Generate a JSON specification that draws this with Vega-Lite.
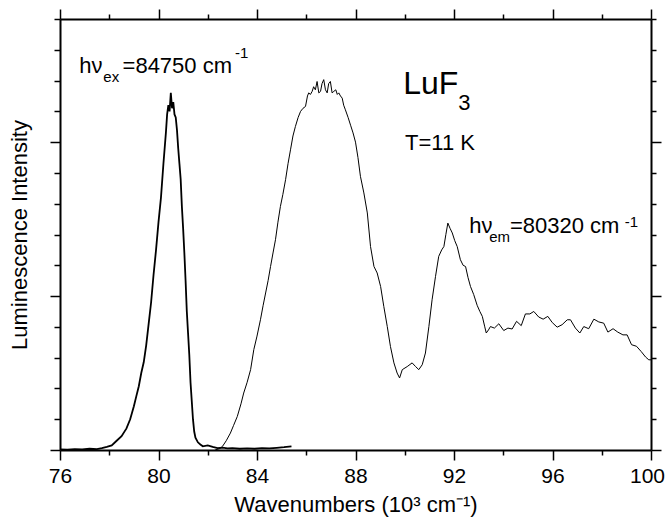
{
  "$schema": "https://vega.github.io/schema/vega-lite/v6.json",
  "width": 591,
  "height": 431,
  "autosize": {"type": "none"},
  "padding": {"left": 60, "top": 19, "right": 16, "bottom": 68},
  "background": "white",
  "config": {
    "view": {"stroke": null},
    "font": "Liberation Sans",
    "axis": {"domainColor": "black", "tickColor": "black", "labelColor": "black", "titleColor": "black", "grid": false, "labelFont": "Liberation Sans", "titleFont": "Liberation Sans", "titleFontWeight": "normal", "domainWidth": 2, "tickWidth": 1.5}
  },
  "datasets": {
    "ex": [
      {"x": 76.0, "y": 0.02}, {"x": 76.3, "y": 0.01}, {"x": 76.6, "y": 0.03}, {"x": 76.9, "y": 0.02}, {"x": 77.2, "y": 0.04}, {"x": 77.5, "y": 0.03}, {"x": 77.7, "y": 0.06}, {"x": 77.9, "y": 0.1}, {"x": 78.1, "y": 0.15}, {"x": 78.3, "y": 0.3}, {"x": 78.5, "y": 0.45}, {"x": 78.7, "y": 0.7}, {"x": 78.85, "y": 1.0}, {"x": 79.0, "y": 1.42}, {"x": 79.1, "y": 1.75}, {"x": 79.2, "y": 2.07}, {"x": 79.3, "y": 2.5}, {"x": 79.4, "y": 2.85}, {"x": 79.5, "y": 3.4}, {"x": 79.6, "y": 4.1}, {"x": 79.7, "y": 4.8}, {"x": 79.8, "y": 5.7}, {"x": 79.9, "y": 6.5}, {"x": 80.0, "y": 7.4}, {"x": 80.1, "y": 8.2}, {"x": 80.2, "y": 9.3}, {"x": 80.3, "y": 10.3}, {"x": 80.35, "y": 10.9}, {"x": 80.4, "y": 11.2}, {"x": 80.45, "y": 11.0}, {"x": 80.5, "y": 11.6}, {"x": 80.55, "y": 11.1}, {"x": 80.6, "y": 11.3}, {"x": 80.65, "y": 10.9}, {"x": 80.7, "y": 10.8}, {"x": 80.75, "y": 10.4}, {"x": 80.8, "y": 9.8}, {"x": 80.85, "y": 9.3}, {"x": 80.9, "y": 8.8}, {"x": 80.95, "y": 7.9}, {"x": 81.0, "y": 7.2}, {"x": 81.05, "y": 6.4}, {"x": 81.1, "y": 5.5}, {"x": 81.15, "y": 4.5}, {"x": 81.2, "y": 3.8}, {"x": 81.25, "y": 3.1}, {"x": 81.3, "y": 2.2}, {"x": 81.35, "y": 1.6}, {"x": 81.4, "y": 1.0}, {"x": 81.45, "y": 0.6}, {"x": 81.5, "y": 0.4}, {"x": 81.6, "y": 0.25}, {"x": 81.7, "y": 0.18}, {"x": 81.8, "y": 0.12}, {"x": 82.0, "y": 0.15}, {"x": 82.2, "y": 0.1}, {"x": 82.4, "y": 0.06}, {"x": 82.6, "y": 0.08}, {"x": 82.8, "y": 0.05}, {"x": 83.0, "y": 0.06}, {"x": 83.3, "y": 0.04}, {"x": 83.6, "y": 0.05}, {"x": 83.9, "y": 0.04}, {"x": 84.2, "y": 0.06}, {"x": 84.5, "y": 0.05}, {"x": 84.8, "y": 0.07}, {"x": 85.1, "y": 0.09}, {"x": 85.4, "y": 0.12}
    ],
    "em": [
      {"x": 82.3, "y": 0.0}, {"x": 82.5, "y": 0.05}, {"x": 82.6, "y": 0.12}, {"x": 82.75, "y": 0.3}, {"x": 82.92, "y": 0.55}, {"x": 83.05, "y": 0.8}, {"x": 83.2, "y": 1.09}, {"x": 83.35, "y": 1.5}, {"x": 83.46, "y": 1.85}, {"x": 83.6, "y": 2.2}, {"x": 83.74, "y": 2.61}, {"x": 83.87, "y": 3.26}, {"x": 84.0, "y": 3.7}, {"x": 84.14, "y": 4.23}, {"x": 84.25, "y": 4.7}, {"x": 84.35, "y": 5.1}, {"x": 84.45, "y": 5.5}, {"x": 84.55, "y": 5.96}, {"x": 84.65, "y": 6.4}, {"x": 84.75, "y": 6.83}, {"x": 84.85, "y": 7.4}, {"x": 84.95, "y": 7.91}, {"x": 85.05, "y": 8.3}, {"x": 85.16, "y": 8.78}, {"x": 85.26, "y": 9.3}, {"x": 85.36, "y": 9.75}, {"x": 85.46, "y": 10.2}, {"x": 85.56, "y": 10.51}, {"x": 85.67, "y": 10.8}, {"x": 85.77, "y": 11.0}, {"x": 85.87, "y": 11.1}, {"x": 85.97, "y": 11.16}, {"x": 86.05, "y": 11.5}, {"x": 86.1, "y": 11.6}, {"x": 86.17, "y": 11.55}, {"x": 86.24, "y": 11.65}, {"x": 86.3, "y": 11.8}, {"x": 86.37, "y": 11.7}, {"x": 86.44, "y": 11.97}, {"x": 86.51, "y": 11.6}, {"x": 86.58, "y": 11.65}, {"x": 86.64, "y": 11.9}, {"x": 86.71, "y": 12.03}, {"x": 86.78, "y": 11.7}, {"x": 86.85, "y": 11.6}, {"x": 86.91, "y": 11.9}, {"x": 86.98, "y": 11.97}, {"x": 87.05, "y": 11.6}, {"x": 87.12, "y": 11.65}, {"x": 87.2, "y": 11.7}, {"x": 87.26, "y": 11.55}, {"x": 87.32, "y": 11.6}, {"x": 87.39, "y": 11.5}, {"x": 87.46, "y": 11.43}, {"x": 87.52, "y": 11.2}, {"x": 87.59, "y": 11.05}, {"x": 87.7, "y": 10.8}, {"x": 87.8, "y": 10.55}, {"x": 87.9, "y": 10.3}, {"x": 88.0, "y": 10.0}, {"x": 88.1, "y": 9.5}, {"x": 88.2, "y": 8.89}, {"x": 88.34, "y": 8.35}, {"x": 88.48, "y": 7.7}, {"x": 88.61, "y": 6.61}, {"x": 88.75, "y": 5.96}, {"x": 88.88, "y": 5.75}, {"x": 89.02, "y": 5.31}, {"x": 89.15, "y": 4.66}, {"x": 89.29, "y": 4.01}, {"x": 89.42, "y": 3.36}, {"x": 89.56, "y": 2.83}, {"x": 89.69, "y": 2.5}, {"x": 89.79, "y": 2.34}, {"x": 89.9, "y": 2.61}, {"x": 90.1, "y": 2.71}, {"x": 90.3, "y": 2.83}, {"x": 90.44, "y": 2.71}, {"x": 90.57, "y": 2.61}, {"x": 90.71, "y": 2.77}, {"x": 90.84, "y": 3.15}, {"x": 90.98, "y": 4.01}, {"x": 91.11, "y": 4.88}, {"x": 91.25, "y": 5.64}, {"x": 91.38, "y": 6.29}, {"x": 91.5, "y": 6.5}, {"x": 91.59, "y": 6.61}, {"x": 91.67, "y": 7.0}, {"x": 91.75, "y": 7.37}, {"x": 91.84, "y": 7.2}, {"x": 91.93, "y": 7.05}, {"x": 92.03, "y": 6.8}, {"x": 92.13, "y": 6.61}, {"x": 92.26, "y": 6.18}, {"x": 92.37, "y": 6.0}, {"x": 92.47, "y": 5.96}, {"x": 92.57, "y": 5.6}, {"x": 92.67, "y": 5.31}, {"x": 92.8, "y": 5.05}, {"x": 92.94, "y": 4.7}, {"x": 93.05, "y": 4.5}, {"x": 93.15, "y": 4.34}, {"x": 93.25, "y": 4.0}, {"x": 93.31, "y": 3.8}, {"x": 93.4, "y": 3.9}, {"x": 93.48, "y": 4.01}, {"x": 93.64, "y": 3.96}, {"x": 93.82, "y": 4.1}, {"x": 94.02, "y": 3.88}, {"x": 94.19, "y": 3.96}, {"x": 94.36, "y": 3.93}, {"x": 94.54, "y": 4.18}, {"x": 94.73, "y": 4.04}, {"x": 94.9, "y": 4.42}, {"x": 95.08, "y": 4.42}, {"x": 95.24, "y": 4.5}, {"x": 95.44, "y": 4.32}, {"x": 95.62, "y": 4.25}, {"x": 95.81, "y": 4.34}, {"x": 95.99, "y": 4.14}, {"x": 96.19, "y": 3.99}, {"x": 96.39, "y": 4.07}, {"x": 96.6, "y": 4.23}, {"x": 96.73, "y": 4.23}, {"x": 96.93, "y": 3.96}, {"x": 97.11, "y": 3.8}, {"x": 97.27, "y": 4.01}, {"x": 97.47, "y": 3.94}, {"x": 97.68, "y": 4.25}, {"x": 97.88, "y": 4.16}, {"x": 98.08, "y": 4.12}, {"x": 98.25, "y": 3.83}, {"x": 98.46, "y": 3.94}, {"x": 98.65, "y": 3.83}, {"x": 98.86, "y": 3.74}, {"x": 99.03, "y": 3.74}, {"x": 99.21, "y": 3.42}, {"x": 99.41, "y": 3.37}, {"x": 99.6, "y": 3.2}, {"x": 99.78, "y": 3.02}, {"x": 99.91, "y": 2.93}, {"x": 100.0, "y": 2.93}
    ],
    "big": [
      {"x": 76.78, "y": 12.236, "t": "hν"},
      {"x": 78.54, "y": 12.236, "t": "=84750 cm"},
      {"x": 92.62, "y": 7.039, "t": "hν"},
      {"x": 94.27, "y": 7.039, "t": "=80320 cm"},
      {"x": 92.175, "y": 11.044, "t": "3"},
      {"x": 90.01, "y": 9.745, "t": "T=11 K"}
    ],
    "small": [
      {"x": 77.76, "y": 11.963, "t": "ex"},
      {"x": 83.107, "y": 12.723, "t": "-1"},
      {"x": 93.43, "y": 6.747, "t": "em"},
      {"x": 98.93, "y": 7.253, "t": "-1"}
    ],
    "sample": [
      {"x": 89.94, "y": 11.554, "t": "LuF"}
    ]
  },
  "layer": [
    {
      "data": {"name": "ex"},
      "mark": {"type": "line", "color": "black", "strokeWidth": 1.8},
      "encoding": {
        "x": {
          "field": "x", "type": "quantitative",
          "scale": {"domain": [76, 100], "nice": false, "zero": false},
          "axis": {
            "orient": "bottom",
            "values": [76, 78, 80, 82, 84, 86, 88, 90, 92, 94, 96, 98, 100],
            "labelExpr": "datum.value % 4 === 0 ? datum.label : ''",
            "tickSize": {"condition": {"test": "datum.value % 4 === 0", "value": 10}, "value": 5},
            "labelOffset": {"condition": {"test": "datum.value === 100", "value": -4}, "value": 0},
            "labelFontSize": 21, "labelPadding": 5, "labelFlush": false, "labelOverlap": false,
            "title": "Wavenumbers (10³ cm⁻¹)", "titleFontSize": 22, "titlePadding": 8
          }
        },
        "y": {
          "field": "y", "type": "quantitative",
          "scale": {"domain": [0, 14], "nice": false, "zero": false},
          "axis": {
            "orient": "left",
            "values": [0, 1, 2, 3, 4, 5, 6, 7, 8, 9, 10, 11, 12, 13, 14],
            "labels": false,
            "tickSize": {"condition": {"test": "datum.value % 5 === 0", "value": 10}, "value": 6},
            "title": "Luminescence Intensity", "titleFontSize": 22, "titlePadding": 18
          }
        }
      }
    },
    {
      "data": {"name": "em"},
      "mark": {"type": "line", "color": "black", "strokeWidth": 1},
      "encoding": {
        "x": {
          "field": "x", "type": "quantitative",
          "scale": {"domain": [76, 100], "nice": false, "zero": false},
          "axis": {
            "orient": "top",
            "values": [76, 78, 80, 82, 84, 86, 88, 90, 92, 94, 96, 98, 100],
            "labels": false,
            "tickSize": {"condition": {"test": "datum.value % 4 === 0", "value": 10}, "value": 5},
            "title": null
          }
        },
        "y": {
          "field": "y", "type": "quantitative",
          "scale": {"domain": [0, 14], "nice": false, "zero": false},
          "axis": {
            "orient": "right",
            "values": [0, 1, 2, 3, 4, 5, 6, 7, 8, 9, 10, 11, 12, 13, 14],
            "labels": false,
            "tickSize": {"condition": {"test": "datum.value % 5 === 0", "value": 10}, "value": 5},
            "title": null
          }
        }
      }
    },
    {
      "data": {"name": "big"},
      "mark": {"type": "text", "align": "left", "baseline": "alphabetic", "fontSize": 22, "font": "Liberation Sans", "color": "black"},
      "encoding": {
        "x": {"field": "x", "type": "quantitative", "scale": {"domain": [76, 100], "nice": false, "zero": false}, "axis": null},
        "y": {"field": "y", "type": "quantitative", "scale": {"domain": [0, 14], "nice": false, "zero": false}, "axis": null},
        "text": {"field": "t"}
      }
    },
    {
      "data": {"name": "small"},
      "mark": {"type": "text", "align": "left", "baseline": "alphabetic", "fontSize": 15, "font": "Liberation Sans", "color": "black"},
      "encoding": {
        "x": {"field": "x", "type": "quantitative", "scale": {"domain": [76, 100], "nice": false, "zero": false}, "axis": null},
        "y": {"field": "y", "type": "quantitative", "scale": {"domain": [0, 14], "nice": false, "zero": false}, "axis": null},
        "text": {"field": "t"}
      }
    },
    {
      "data": {"name": "sample"},
      "mark": {"type": "text", "align": "left", "baseline": "alphabetic", "fontSize": 32, "font": "Liberation Sans", "color": "black"},
      "encoding": {
        "x": {"field": "x", "type": "quantitative", "scale": {"domain": [76, 100], "nice": false, "zero": false}, "axis": null},
        "y": {"field": "y", "type": "quantitative", "scale": {"domain": [0, 14], "nice": false, "zero": false}, "axis": null},
        "text": {"field": "t"}
      }
    }
  ],
  "resolve": {"axis": {"x": "independent", "y": "independent"}}
}
